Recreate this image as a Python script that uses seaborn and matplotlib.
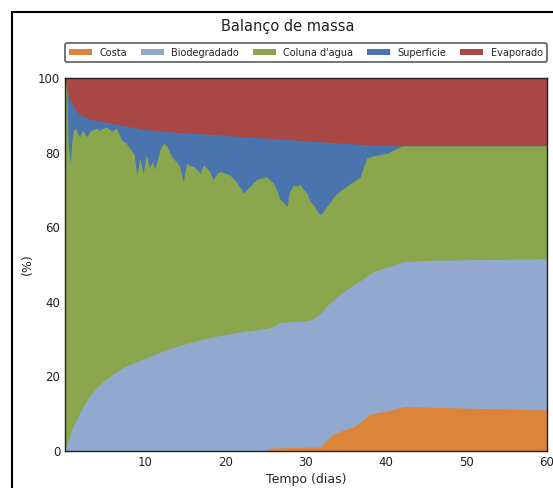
import numpy as np
import matplotlib
matplotlib.use("Agg")
import matplotlib.pyplot as plt
from matplotlib.patches import Rectangle
import seaborn as sns

# cumulative top of each layer (%), each with its own time knots (days)
t_start = 0.1
t_end = 60.0

t_sup = [0.1, 0.2, 0.5, 0.85, 1.5, 2.0, 2.7, 3.5, 4.4, 6.0, 8.0, 10.0, 13.0, 16.0,
         19.0, 22.0, 25.0, 28.0, 31.0, 34.0, 37.0, 40.0, 42.0, 60.0]
sup_top = [100, 98.4, 95.5, 93.5, 91.2, 90.2, 89.4, 88.8, 88.5, 87.8, 87.0, 86.2, 85.6, 85.2,
           84.8, 84.3, 83.9, 83.5, 83.0, 82.6, 82.2, 81.9, 81.8, 81.8]

t_col = [0.1, 0.3, 0.5, 0.75, 0.95, 1.15, 1.4, 1.6, 1.9, 2.3, 2.8, 3.35, 4.0, 4.4,
         5.2, 5.9, 6.5, 7.1, 7.7, 8.3, 8.7, 9.0, 9.4, 9.8, 10.2, 10.6, 11.0, 11.2,
         11.5, 11.9, 12.3, 12.7, 13.1, 13.5, 14.0, 14.4, 14.8, 15.2, 15.6, 16.0, 16.5,
         16.9, 17.3, 17.7, 18.1, 18.5, 19.0, 19.4, 20.0, 20.6, 21.0, 21.4, 21.9, 22.3,
         22.7, 23.1, 23.5, 23.9, 24.5, 25.2, 25.6, 26.0, 26.4, 26.8, 27.3, 27.7, 28.0,
         28.5, 28.9, 29.3, 29.7, 30.2, 30.6, 31.0, 31.4, 31.8, 32.2, 32.6, 33.1, 33.5,
         34.3, 35.0, 35.6, 36.2, 36.8, 37.2, 37.6, 38.3, 38.9, 39.5, 40.1, 40.8, 41.4,
         42.0, 50.0, 60.0]
col_top = [99.5, 97, 82, 77, 83, 86.1, 86.5, 85.5, 84.3, 86, 84.3, 86, 86.5, 86,
           86.9, 85.8, 86.5, 83.4, 82.5, 80.7, 79.5, 74.0, 78.5, 74.4, 79.4, 75.9, 77.8, 75.5,
           77.5, 80.7, 82.5, 82, 80, 78.5, 77.5, 76, 72.2, 77.1, 76.5, 76.3, 75.5,
           74.4, 76.7, 75.8, 75.0, 72.7, 74.5, 74.9, 74.5, 74.0, 73.0, 72.1, 70.5, 69.1,
           70.3, 70.9, 72.0, 72.7, 73.2, 73.5, 72.6, 71.8, 70.0, 67.5, 66.5, 65.5, 69.5,
           71.3, 71.0, 71.5, 70.2, 69.0, 66.8, 66.0, 64.5, 63.3, 64.2, 65.5, 66.8, 68.2,
           69.8, 70.8, 71.8, 72.6, 73.5, 76.2, 78.5, 79.0, 79.4, 79.6, 79.8, 80.5, 81.2,
           81.8, 81.8, 81.8]

t_bio = [0.1, 0.3, 0.6, 1.0, 1.5, 2.0, 2.5, 3.1, 4.0, 5.0, 5.6, 6.5, 7.5, 8.5, 10.0,
         11.3, 12.7, 14.5, 16.9, 18.5, 20.1, 22.0, 24.0, 25.2, 26.0, 26.8, 28.0, 29.7,
         30.8, 31.8, 32.8, 33.9, 35.0, 36.0, 37.2, 38.0, 39.0, 40.0, 41.0, 42.2, 45.0,
         50.0, 60.0]
bio_top = [0, 1.5, 3.5, 6, 8.3, 10.5, 12.5, 14.6, 16.9, 18.9, 19.9, 21.3, 22.6, 23.5, 24.8,
           26.0, 27.1, 28.4, 29.8, 30.6, 31.3, 32.0, 32.5, 32.9, 33.5, 34.5, 34.6, 34.8,
           35.3, 36.9, 39.3, 41.4, 43.2, 44.6, 46.3, 47.6, 48.6, 49.2, 49.9, 50.8, 51.1,
           51.3, 51.5]

t_costa = [0.1, 24.8, 25.8, 31.8, 32.5, 33.5, 35.0, 36.0, 37.0, 38.0, 40.3, 42.2, 50.0, 60.0]
costa_top = [0, 0, 0.8, 1.1, 2.6, 4.6, 5.8, 6.5, 8.0, 9.9, 10.8, 11.9, 11.5, 11.0]

labels = ["Costa", "Biodegradado", "Coluna d'agua", "Superficie", "Evaporado"]
colors = ["#DC853A", "#91A8CF", "#8AA74E", "#4A74AE", "#A84744"]

sns.set_theme(style="ticks", rc={
    "axes.edgecolor": "#222222",
    "axes.linewidth": 1.0,
    "xtick.direction": "in",
    "ytick.direction": "in",
    "xtick.top": True,
    "ytick.right": True,
    "xtick.major.size": 4,
    "ytick.major.size": 4,
    "xtick.color": "#222222",
    "ytick.color": "#222222",
    "text.color": "#222222",
})
plt.rcParams["font.family"] = ["DejaVu Sans"]

fig = plt.figure(figsize=(5.53, 4.88), dpi=100)
ax = fig.add_axes([65 / 553, 1 - 451 / 488, (547 - 65) / 553, (451 - 78) / 488])

# painter's order: draw from the top layer down, each filled from 0 to its cumulative top
layers = [
    ([t_start, t_end], [100, 100]),
    (t_sup, sup_top),
    (t_col, col_top),
    (t_bio, bio_top),
    (t_costa, costa_top),
]
handles = {}
for (tt, yy), lab, col in zip(layers, labels[::-1], colors[::-1]):
    handles[lab] = ax.fill_between(tt, 0, yy, color=col, linewidth=0, label=lab)

ax.set_xlim(t_start, t_end)
ax.set_ylim(0, 100)
ax.set_xticks([10, 20, 30, 40, 50, 60])
ax.set_yticks([0, 20, 40, 60, 80, 100])
ax.tick_params(labelsize=8.5, width=0.8)
ax.set_xlabel("Tempo (dias)", fontsize=9, labelpad=3)
ax.set_ylabel("(%)", fontsize=9, labelpad=3)

leg = ax.legend([handles[l] for l in labels], labels, ncol=5, mode="expand",
                loc="lower left", bbox_to_anchor=(0, 1.043, 1, 0.054), borderaxespad=0,
                fontsize=7, handlelength=2.3, handleheight=0.55, frameon=True,
                fancybox=True, borderpad=0.45, handletextpad=0.8)
leg.get_frame().set_edgecolor("#444444")
leg.get_frame().set_linewidth(1.3)

fig.text(288 / 553, 1 - 26 / 488, "Balanço de massa", ha="center", va="center", fontsize=10.5)

# outer frame of the original picture (left and top edges visible)
fig.patches.append(Rectangle((12 / 553, -0.1), 1.2, 1.1 - 12 / 488,
                             transform=fig.transFigure, fill=False, edgecolor="black",
                             linewidth=1.5, clip_on=False))

fig.savefig("out.png", dpi=100)
